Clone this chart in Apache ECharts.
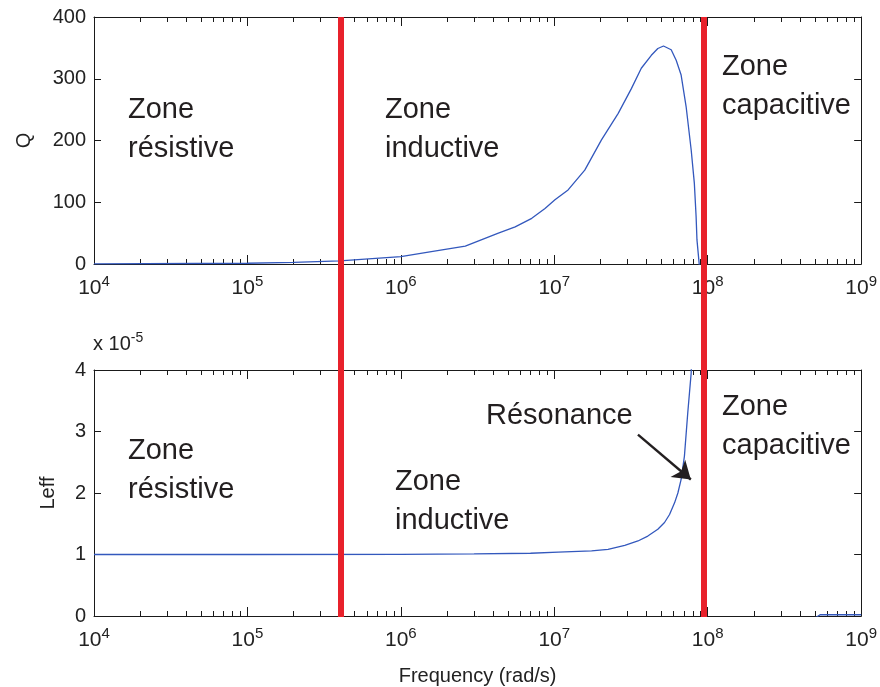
<!DOCTYPE html>
<html>
<head>
<meta charset="utf-8">
<script src="https://cdn.jsdelivr.net/npm/echarts@6/dist/echarts.min.js"></script>
<style>
  html, body { margin: 0; padding: 0; background: #fff; }
  #chart { width: 880px; height: 687px; }
</style>
</head>
<body>
<div id="chart"></div>
<script>
// x axis ticks (rad/s)
const decades = [1e4, 1e5, 1e6, 1e7, 1e8, 1e9];
// minor ticks 2..9 in every decade
const minorTicks = [];
decades.slice(0, -1).forEach(d => {
  for (let k = 2; k <= 9; k++) minorTicks.push(k * d);
});

// facteur de qualité Q
const freqQ = [1e4, 1e5, 2e5, 4e5, 1e6, 1.58e6, 2.63e6, 4.32e6, 5.56e6, 7.13e6, 8.7e6, 1.01e7,
  1.23e7, 1.58e7, 2.03e7, 2.61e7, 3.18e7, 3.69e7, 4.29e7, 4.73e7, 5.15e7, 5.78e7, 6.23e7,
  6.71e7, 7.23e7, 7.8e7, 8.18e7, 8.4e7, 8.51e7, 8.8e7, 9.0e7];
const valQ = [0.1, 1.2, 2.5, 5, 12, 20, 29, 50, 60, 74, 90, 104,
  120, 152, 201, 244, 284, 317, 338, 349, 353, 347, 330,
  306, 255, 185, 131, 77, 39, 0, -60];

// inductance effective Leff (x 1e-5), null = discontinuité à la résonance
const freqL = [1e4, 1e5, 1e6, 3e6, 7e6, 1.06e7, 1.75e7, 2.24e7, 2.88e7, 3.51e7, 4.07e7,
  4.73e7, 5.23e7, 5.64e7, 6.08e7, 6.39e7, 6.71e7, 7.05e7, 7.41e7, 7.8e7, 8.0e7, 8.6e7,
  9.06e7, 9.6e7, 1e8, 1.5e8, 3e8, 5.4e8, 1e9];
const valL = [1.0, 1.0, 1.003, 1.01, 1.02, 1.04, 1.058, 1.085, 1.15, 1.22, 1.30,
  1.41, 1.52, 1.65, 1.84, 2.0, 2.22, 2.6, 3.3, 3.95, 4.65, 40,
  null, -40, -8, -1.5, -0.4, 0.02, 0.02];

// limites des zones
const zoneLimits = [4.02e5, 9.06e7];
// flèche "Résonance" : [freq, Leff]
const arrowFrom = [3.51e7, 2.95];
const arrowTo = [7.76e7, 2.22];

const yTicksQ = [0, 400, 100];
const yTicksL = [0, 4, 1];

const FONT = 'Liberation Sans, Arial, sans-serif';
const INK = '#231f20';
const AXIS = '#1a1a1a';

const chart = echarts.init(document.getElementById('chart'));

function xAxes(gridIndex, withLabels, withName) {
  const base = {
    type: 'log', logBase: 10, min: 1e4, max: 1e9, gridIndex: gridIndex,
    splitLine: { show: false }
  };
  return [
    Object.assign({}, base, {
      position: 'bottom',
      axisLine: { show: true, lineStyle: { color: AXIS, width: 1 } },
      axisTick: { show: true, inside: true, length: 9, customValues: decades, lineStyle: { color: AXIS } },
      axisLabel: {
        show: withLabels, customValues: decades, margin: 10,
        formatter: v => '{b|10}{s|' + Math.round(Math.log10(v)) + '}',
        rich: {
          b: { fontSize: 21, color: '#222', fontFamily: FONT },
          s: { fontSize: 15, color: '#222', fontFamily: FONT, padding: [0, 0, 14, 0] }
        }
      },
      name: withName ? 'Frequency (rad/s)' : '',
      nameLocation: 'middle', nameGap: 50,
      nameTextStyle: { fontSize: 20, color: '#222', fontFamily: FONT }
    }),
    Object.assign({}, base, {
      position: 'bottom',
      axisLine: { show: false },
      axisTick: { show: true, inside: true, length: 5, customValues: minorTicks, lineStyle: { color: AXIS } },
      axisLabel: { show: false }
    }),
    Object.assign({}, base, {
      position: 'top',
      axisLine: { show: true, lineStyle: { color: AXIS, width: 1 } },
      axisTick: { show: true, inside: true, length: 9, customValues: decades, lineStyle: { color: AXIS } },
      axisLabel: { show: false }
    }),
    Object.assign({}, base, {
      position: 'top',
      axisLine: { show: false },
      axisTick: { show: true, inside: true, length: 5, customValues: minorTicks, lineStyle: { color: AXIS } },
      axisLabel: { show: false }
    })
  ];
}

function yAxes(gridIndex, ticks, name, nameGap) {
  const base = {
    type: 'value', gridIndex: gridIndex, min: ticks[0], max: ticks[1], interval: ticks[2],
    splitLine: { show: false },
    axisLine: { show: true, lineStyle: { color: AXIS, width: 1 } },
    axisTick: { show: true, inside: true, length: 7, lineStyle: { color: AXIS } }
  };
  return [
    Object.assign({}, base, {
      position: 'left',
      axisLabel: { fontSize: 20, color: '#222', fontFamily: FONT, margin: 8 },
      name: name, nameLocation: 'middle', nameGap: nameGap,
      nameTextStyle: { fontSize: 20, color: '#222', fontFamily: FONT }
    }),
    Object.assign({}, base, { position: 'right', axisLabel: { show: false } })
  ];
}

function zoneText(left, top, text) {
  return {
    type: 'text', left: left, top: top, silent: true,
    style: { text: text, font: '29px ' + FONT, fill: INK, lineHeight: 39 }
  };
}

const option = {
  animation: false,
  backgroundColor: '#fff',
  grid: [
    { left: 94, right: 16, top: 17, height: 247 },
    { left: 94, right: 16, top: 370, height: 247 },
    { left: 94, right: 16, top: 17, bottom: 70 }
  ],
  xAxis: [].concat(
    xAxes(0, true, false),
    xAxes(1, true, true),
    [{ type: 'log', logBase: 10, min: 1e4, max: 1e9, gridIndex: 2, show: false }]
  ),
  yAxis: [].concat(
    yAxes(0, yTicksQ, 'Q', 60),
    yAxes(1, yTicksL, 'Leff', 36),
    [{ type: 'value', gridIndex: 2, min: 0, max: 1, show: false }]
  ),
  series: [
    {
      name: 'Q', type: 'line', xAxisIndex: 0, yAxisIndex: 0, z: 2,
      data: freqQ.map((f, i) => [f, valQ[i]]),
      showSymbol: false, clip: true, silent: true,
      lineStyle: { color: '#3358bd', width: 1.3 }
    },
    {
      name: 'Leff', type: 'line', xAxisIndex: 4, yAxisIndex: 2, z: 2,
      data: freqL.map((f, i) => [f, valL[i] === null ? '-' : valL[i]]),
      showSymbol: false, clip: true, silent: true, connectNulls: false,
      lineStyle: { color: '#3358bd', width: 1.3 },
      markLine: {
        silent: true, symbol: ['none', 'arrow'], symbolSize: 17,
        label: { show: false },
        lineStyle: { color: INK, width: 2.4, type: 'solid' },
        data: [[{ coord: arrowFrom }, { coord: arrowTo }]]
      }
    },
    {
      name: 'zones', type: 'line', xAxisIndex: 8, yAxisIndex: 4, z: 20,
      data: [], silent: true,
      markLine: {
        z: 20, silent: true, symbol: ['none', 'none'],
        label: { show: false },
        lineStyle: { color: '#e8212b', width: 6, type: 'solid' },
        data: zoneLimits.map(v => ({ xAxis: v }))
      }
    }
  ],
  graphic: [
    zoneText(128, 90, 'Zone\nrésistive'),
    zoneText(385, 90, 'Zone\ninductive'),
    zoneText(722, 47, 'Zone\ncapacitive'),
    zoneText(128, 431, 'Zone\nrésistive'),
    zoneText(395, 462, 'Zone\ninductive'),
    zoneText(722, 387, 'Zone\ncapacitive'),
    zoneText(486, 396, 'Résonance'),
    {
      type: 'text', left: 93, top: 331, silent: true,
      style: {
        text: '{a|x 10}{e|-5}',
        rich: {
          a: { fontSize: 20, fontFamily: FONT, fill: '#222' },
          e: { fontSize: 14, fontFamily: FONT, fill: '#222', padding: [0, 0, 12, 0] }
        }
      }
    }
  ]
};

chart.setOption(option);
</script>
</body>
</html>
